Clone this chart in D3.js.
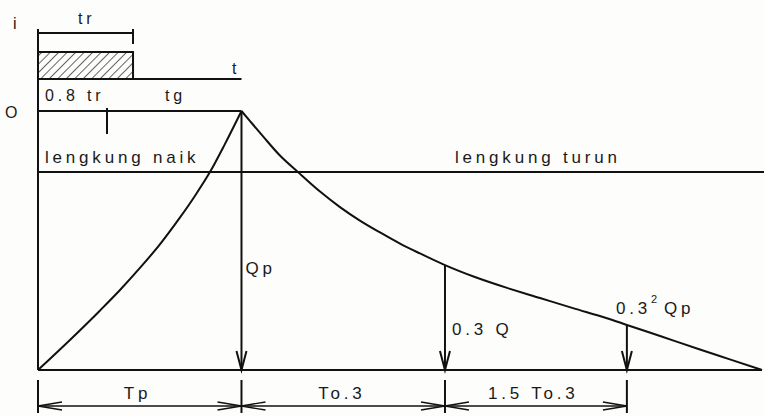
<!DOCTYPE html>
<html>
<head>
<meta charset="utf-8">
<script src="https://cdn.jsdelivr.net/npm/d3@7"></script>
<style>
  html, body { margin: 0; padding: 0; background: #fdfdfb; }
  svg { display: block; }
  text { font-family: "Liberation Sans", Arial, sans-serif; fill: #1a1a1a; }
</style>
</head>
<body>
<script>
// Nakayasu synthetic unit hydrograph (schematic)
// time in units of Tp, discharge as a fraction of Qp

// rising limb (lengkung naik)
const riseT = [0, 0.157, 0.305, 0.403, 0.501, 0.600, 0.698, 0.771, 0.845, 0.919, 1.0];
const riseQ = [0, 0.116, 0.230, 0.309, 0.394, 0.486, 0.589, 0.672, 0.764, 0.873, 1.0];

// falling limb (lengkung turun)
const fallT = [1.0, 1.042, 1.106, 1.189, 1.278, 1.386, 1.484, 1.582, 1.681, 1.779, 1.877, 2.0,
               2.147, 2.305, 2.467, 2.629, 2.796, 2.894, 3.057, 3.253, 3.400, 3.558];
const fallQ = [1.0, 0.961, 0.902, 0.828, 0.764, 0.689, 0.629, 0.577, 0.531, 0.488, 0.450, 0.405,
               0.359, 0.317, 0.278, 0.239, 0.200, 0.174, 0.131, 0.079, 0.041, 0.0];

// ordinates marked with arrows: Qp, 0.3 Q, 0.3^2 Qp
const markT = [1.0, 2.0, 2.894];
const markQ = [1.0, 0.405, 0.174];

// dimension stations along the time axis
const dimT = [0, 1.0, 2.0, 2.894];
const dimLabels = ["Tp", "To.3", "1.5 To.3"];

// rainfall block and time markers above the hydrograph
const tr = 0.467;          // rainfall duration
const rainI = 0.54;        // rainfall intensity (relative)
const tickT = 0.339;       // 0.8 tr marker
const levelQ = 0.764;      // level dividing the rising and falling parts

const W = 764, H = 416;
const x = d3.scaleLinear().domain([0, 3.558]).range([38, 762]);
const y = d3.scaleLinear().domain([0, 1]).range([370, 111]);
const yRain = d3.scaleLinear().domain([0, 1]).range([79, 29]);

const svg = d3.select("body").append("svg").attr("width", W).attr("height", H);

const ink = "#111";
const defs = svg.append("defs");
const pat = defs.append("pattern").attr("id", "hatch").attr("patternUnits", "userSpaceOnUse")
  .attr("width", 6).attr("height", 6).attr("patternTransform", "rotate(45)");
pat.append("line").attr("x1", 0).attr("y1", 0).attr("x2", 0).attr("y2", 6)
  .attr("stroke", ink).attr("stroke-width", 1.3);

const g = svg.append("g").attr("stroke", ink).attr("fill", "none").attr("stroke-linecap", "butt");

// vertical axis (i above, Q below)
g.append("line").attr("x1", x(0)).attr("x2", x(0)).attr("y1", yRain(1)).attr("y2", y(0)).attr("stroke-width", 2);

// tr bracket
g.append("line").attr("x1", x(0)).attr("x2", x(tr)).attr("y1", yRain(0.92)).attr("y2", yRain(0.92)).attr("stroke-width", 2);
g.append("line").attr("x1", x(tr)).attr("x2", x(tr)).attr("y1", yRain(1)).attr("y2", yRain(0.7)).attr("stroke-width", 2);

// rainfall block
g.append("rect").attr("x", x(0)).attr("y", yRain(rainI)).attr("width", x(tr) - x(0))
  .attr("height", yRain(0) - yRain(rainI)).attr("fill", "url(#hatch)").attr("stroke-width", 2);

// t axis
g.append("line").attr("x1", x(0)).attr("x2", x(1)).attr("y1", yRain(0)).attr("y2", yRain(0)).attr("stroke-width", 2);

// O line to the peak, with 0.8 tr marker
g.append("line").attr("x1", x(0)).attr("x2", x(1)).attr("y1", y(1)).attr("y2", y(1)).attr("stroke-width", 2);
g.append("line").attr("x1", x(tickT)).attr("x2", x(tickT)).attr("y1", y(1) - 3).attr("y2", y(1) + 23).attr("stroke-width", 2);

// dividing level
g.append("line").attr("x1", x(0)).attr("x2", W).attr("y1", y(levelQ)).attr("y2", y(levelQ)).attr("stroke-width", 2);

// base line
g.append("line").attr("x1", x(0)).attr("x2", x(3.558)).attr("y1", y(0)).attr("y2", y(0)).attr("stroke-width", 2);

// hydrograph limbs
const line = d3.line().x(d => x(d[0])).y(d => y(d[1])).curve(d3.curveMonotoneX);
g.append("path").attr("d", line(d3.zip(riseT, riseQ))).attr("stroke-width", 2);
g.append("path").attr("d", line(d3.zip(fallT, fallQ))).attr("stroke-width", 2);

// ordinate arrows
markT.forEach((t, i) => {
  const px = x(t);
  g.append("line").attr("x1", px).attr("x2", px).attr("y1", y(markQ[i])).attr("y2", y(0)).attr("stroke-width", 2);
  g.append("path").attr("d", `M${px - 5},${y(0) - 19} L${px},${y(0)} L${px + 5},${y(0) - 19}`)
    .attr("stroke-width", 2);
});

// dimension line with ticks and open arrowheads
const dimY = 406;
g.append("line").attr("x1", x(dimT[0])).attr("x2", x(dimT[dimT.length - 1])).attr("y1", dimY).attr("y2", dimY).attr("stroke-width", 1.6);
dimT.forEach(t => {
  g.append("line").attr("x1", x(t)).attr("x2", x(t)).attr("y1", 380).attr("y2", 413).attr("stroke-width", 2);
});
for (let i = 0; i < dimT.length - 1; i++) {
  const a = x(dimT[i]), b = x(dimT[i + 1]);
  g.append("path").attr("d", `M${a + 24},${dimY - 4} L${a},${dimY} L${a + 24},${dimY + 4}`).attr("stroke-width", 1.4);
  g.append("path").attr("d", `M${b - 24},${dimY - 4} L${b},${dimY} L${b - 24},${dimY + 4}`).attr("stroke-width", 1.4);
}

// labels
const T = svg.append("g").style("font-size", "17px").style("letter-spacing", "3.8px");
const label = (tx, ty, s, size) => {
  const el = T.append("text").attr("x", tx).attr("y", ty).text(s);
  if (size) el.style("font-size", size + "px");
  return el;
};
label(13, 29, "i", 16);
label(78, 24, "tr", 16);
label(232, 74, "t", 16);
label(5, 118, "O", 16);
label(45, 101, "0.8 tr", 16);
label(165, 101, "tg", 16);
label(45, 163, "lengkung naik");
label(455, 163, "lengkung turun");
label(x(markT[0]) + 4, 274, "Qp");
label(x(markT[1]) + 7, 335, "0.3 Q");

// 0.3² Qp as one text with a raised exponent
const sq = T.append("text").attr("x", x(markT[2]) - 11).attr("y", 314);
sq.append("tspan").text("0.3");
sq.append("tspan").attr("dy", -11).style("font-size", "11px").style("letter-spacing", "0px").text("2");
sq.append("tspan").attr("dy", 11).attr("dx", 7).text("Qp");

dimLabels.forEach((s, i) => {
  const mid = (x(dimT[i]) + x(dimT[i + 1])) / 2;
  const offs = [-16, -25, -48][i];
  label(mid + offs, 399, s);
});
</script>
</body>
</html>
